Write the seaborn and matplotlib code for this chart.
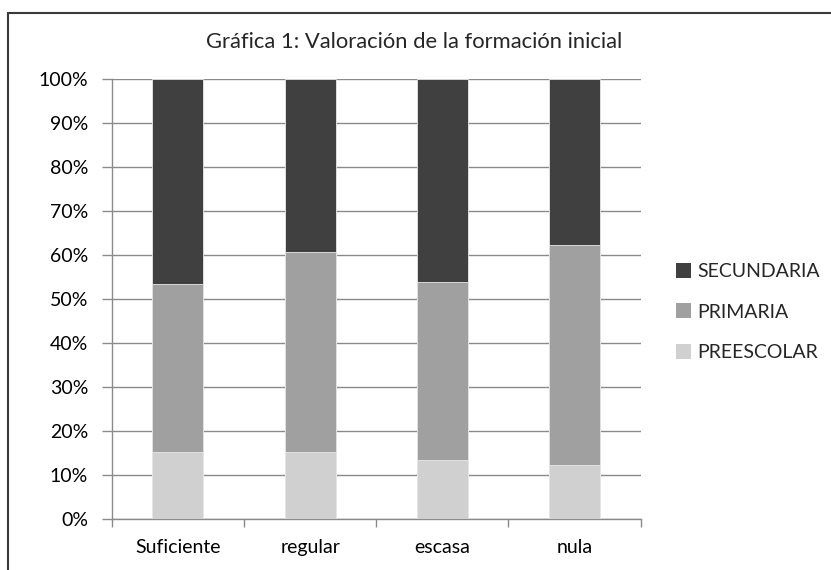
import matplotlib
matplotlib.use("Agg")
import matplotlib.pyplot as plt
import seaborn as sns
import pandas as pd
import numpy as np
from matplotlib.patches import Rectangle, Patch
from matplotlib.ticker import FuncFormatter, MultipleLocator, FixedLocator

categories = ["Suficiente", "regular", "escasa", "nula"]
preescolar = [15.2, 15.2, 13.3, 12.2]
primaria = [38.1, 45.5, 40.6, 50.1]
secundaria = [46.7, 39.3, 46.1, 37.7]
series_names = ["SECUNDARIA", "PRIMARIA", "PREESCOLAR"]
colors = {"SECUNDARIA": "#404040", "PRIMARIA": "#a0a0a0", "PREESCOLAR": "#d0d0d0"}
title = "Gráfica 1: Valoración de la formación inicial"

sns.set_style("white")
plt.rcParams["font.family"] = ["Lato", "DejaVu Sans"]
FS = 14

df = pd.DataFrame({"cat": categories, "PREESCOLAR": preescolar,
                   "PRIMARIA": primaria, "SECUNDARIA": secundaria})
df["c_pre"] = df["PREESCOLAR"]
df["c_pri"] = df["PREESCOLAR"] + df["PRIMARIA"]
df["c_sec"] = df["c_pri"] + df["SECUNDARIA"]

fig = plt.figure(figsize=(8.31, 5.70), dpi=100)
ax = fig.add_axes([0.1344, 0.0895, 0.771 - 0.1344, 0.8614 - 0.0895])

for col, name in [("c_sec", "SECUNDARIA"), ("c_pri", "PRIMARIA"), ("c_pre", "PREESCOLAR")]:
    sns.barplot(data=df, x="cat", y=col, order=categories, color=colors[name],
                saturation=1, width=0.386, ax=ax, edgecolor="#e8e8e8", linewidth=0.6,
                zorder=3)

ax.set_xlim(-0.5, 3.5)
ax.set_ylim(0, 100)
ax.yaxis.set_major_locator(MultipleLocator(10))
ax.yaxis.set_major_formatter(FuncFormatter(lambda v, p: f"{int(round(v))}%"))
ax.grid(axis="y", color="#8a8a8a", linewidth=1.0, zorder=0)
ax.set_axisbelow(True)
ax.set_xlabel("")
ax.set_ylabel("")

for s in ["top", "right"]:
    ax.spines[s].set_visible(False)
for s in ["left", "bottom"]:
    ax.spines[s].set_visible(True)
    ax.spines[s].set_color("#8a8a8a")
    ax.spines[s].set_linewidth(1.0)

ax.tick_params(axis="y", which="major", left=True, length=7, width=1.0, color="#8a8a8a",
               labelsize=FS, labelcolor="#000000", pad=10)
ax.tick_params(axis="x", which="major", bottom=False, labelsize=FS, labelcolor="#000000", pad=11)
ax.xaxis.set_minor_locator(FixedLocator([-0.5, 0.5, 1.5, 2.5, 3.5]))
ax.tick_params(axis="x", which="minor", bottom=True, length=6, width=1.0, color="#8a8a8a")

handles = [Patch(facecolor=colors[n], edgecolor="none") for n in series_names]
fig.legend(handles, series_names, loc="center left", bbox_to_anchor=(0.792, 1 - 312 / 570),
           frameon=False, fontsize=FS, handlelength=0.8, handleheight=0.8,
           handletextpad=0.3, labelspacing=1.2)

fig.text(0.4988, 1 - 42 / 570, title, ha="center", va="center", fontsize=15.8)

border = Rectangle((8 / 831, -0.1), 1.2, (570 - 13) / 570 + 0.1, transform=fig.transFigure,
                   fill=False, edgecolor="#3a3a3a", linewidth=1.5, zorder=10)
fig.patches.append(border)

fig.savefig("out.png", dpi=100)
